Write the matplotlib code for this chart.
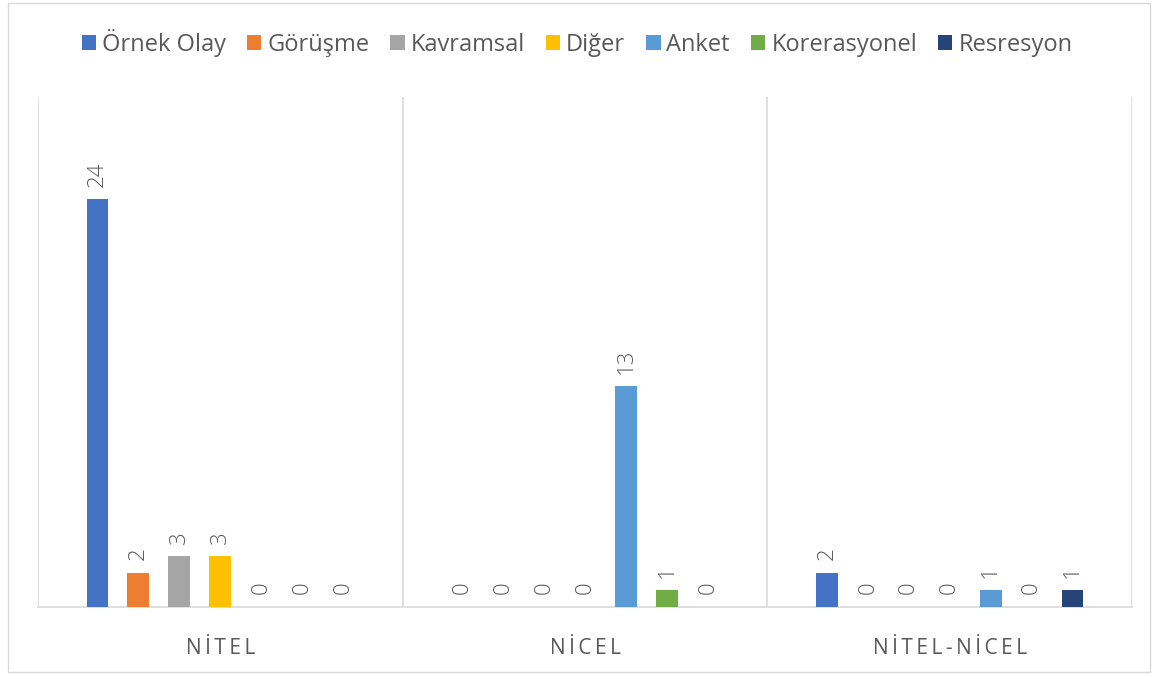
import matplotlib
matplotlib.use("Agg")
import matplotlib.pyplot as plt
from matplotlib.patches import Rectangle, Patch
import numpy as np

categories = ["NİTEL", "NİCEL", "NİTEL-NİCEL"]
series_names = ["Örnek Olay", "Görüşme", "Kavramsal", "Diğer", "Anket", "Korerasyonel", "Resresyon"]
values = {
    "Örnek Olay":   [24, 0, 2],
    "Görüşme":      [2, 0, 0],
    "Kavramsal":    [3, 0, 0],
    "Diğer":        [3, 0, 0],
    "Anket":        [0, 13, 1],
    "Korerasyonel": [0, 1, 0],
    "Resresyon":    [0, 0, 1],
}
colors = ["#4472C4", "#ED7D31", "#A5A5A5", "#FFC000", "#5B9BD5", "#70AD47", "#264478"]

plt.rcParams['font.family'] = ['Open Sans', 'DejaVu Sans']

fig = plt.figure(figsize=(11.54, 6.75), dpi=100)
fig.patches.append(Rectangle((8/1154, 3/675), 1142/1154, 669/675, transform=fig.transFigure,
                             fill=False, edgecolor="#d9d9d9", linewidth=1.0))
ax = fig.add_axes([38/1154, 1-607/675, (1132-38)/1154, (607-97)/675])

x = np.arange(len(categories))
step = 0.1123
width = 0.06
n = len(series_names)
for i, name in enumerate(series_names):
    pos = x + (i - (n - 1) / 2) * step
    vals = values[name]
    ax.bar(pos, vals, width=width, color=colors[i], label=name, zorder=3)
    for p, v in zip(pos, vals):
        ax.annotate(str(v), (p, v), xytext=(0, 9), textcoords="offset points",
                    rotation=90, ha="center", va="bottom", fontsize=16, color="#595959",
                    fontweight="light")

ax.set_xlim(-0.5, len(categories) - 0.5)
ax.set_ylim(0, 30)
ax.set_yticks([])
for b in np.arange(-0.5, len(categories), 1.0):
    ax.axvline(b, color="#d9d9d9", linewidth=1.2, zorder=1)
for s in ["top", "left", "right"]:
    ax.spines[s].set_visible(False)
ax.spines["bottom"].set_color("#d9d9d9")
ax.spines["bottom"].set_linewidth(1.2)
ax.set_xticks(x)
ax.set_xticklabels(["\u2009".join(c) for c in categories], fontsize=15, color="#595959")
ax.tick_params(axis="x", length=0, pad=22)

handles = [Patch(facecolor=c) for c in colors]
fig.legend(handles, series_names, loc="center", bbox_to_anchor=(0.5, 1 - 43/675), ncol=n,
           frameon=False, fontsize=17, labelcolor="#595959", handlelength=0.6, handleheight=0.6,
           handletextpad=0.25, columnspacing=0.9)

fig.savefig("out.png", dpi=100)
